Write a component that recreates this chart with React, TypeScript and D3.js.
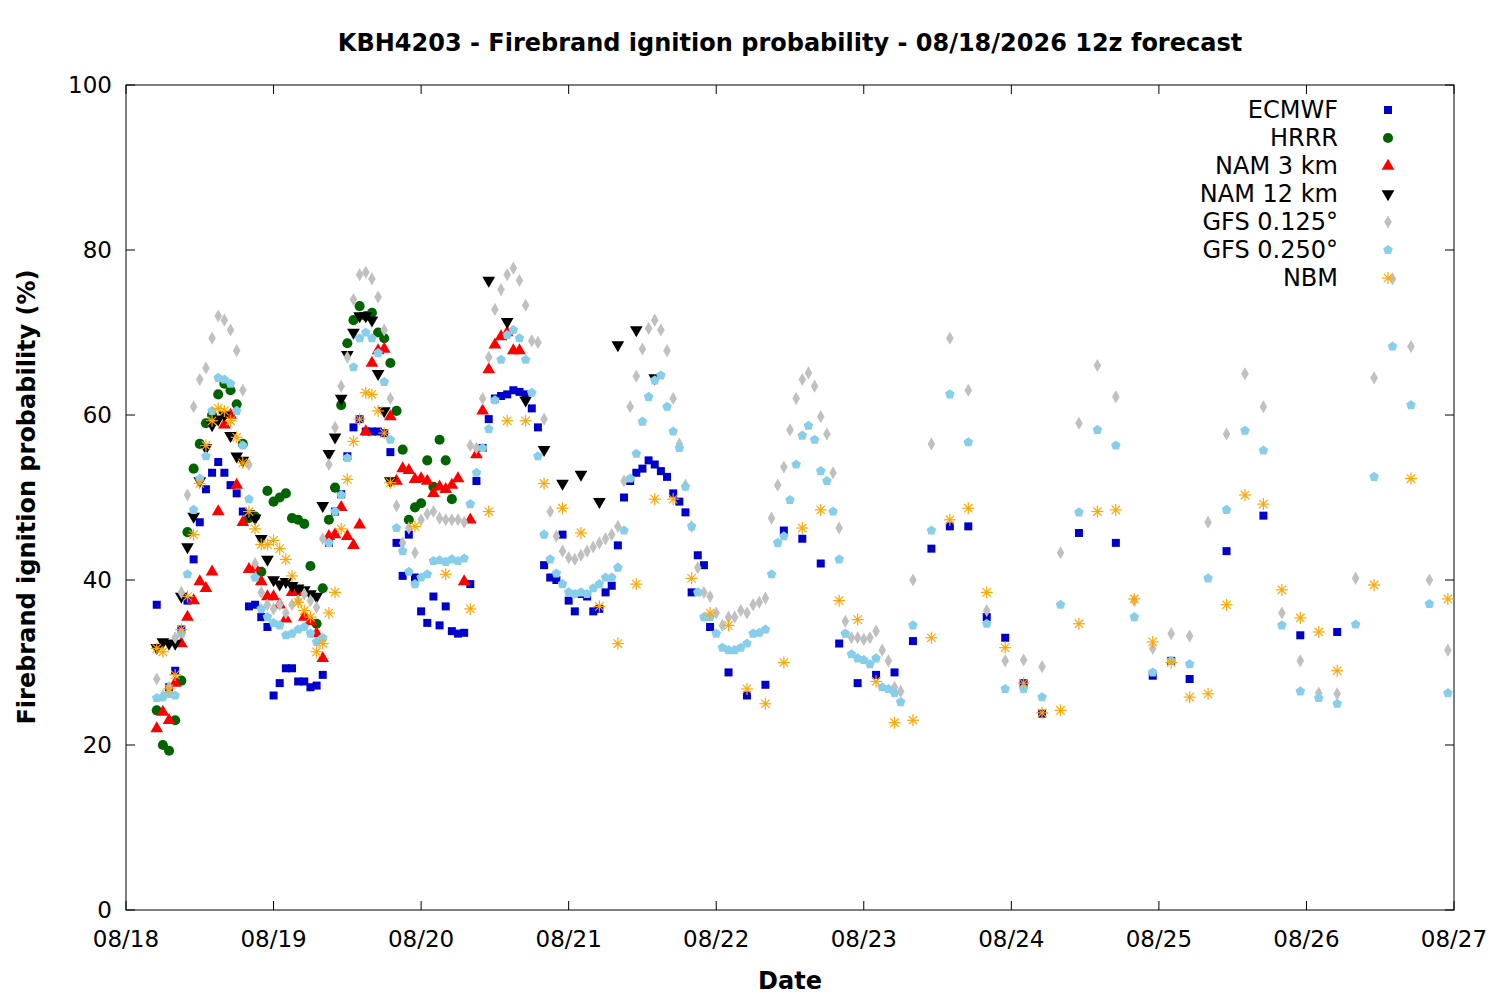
import * as d3 from "d3";

// hours since 08/18 00, values in %
const ecmwfHourlyStart = 5;
const ecmwfHourly = [37, null, 27, 29, 34, 37.5, 42.5, 47, 51, 53, 54.3, 53, 51.5, 50.5, 48.3, 36.8, 37, 35.5, 34.3, 26, 27.5, 29.3, 29.3, 27.7, 27.7, 27, 27.2, 28.5, 44.5, 48.3, 50.4, 55, 58.5, 59.5, 58, 58, 58, 57.8, 55.5, 44.5, 40.5, 45.5, 40.3, 36.2, 34.8, 38, 34.5, 36.8, 33.8, 33.5, 33.6, 39.5, 52, 56, 59.5, 62, 62.3, 62.5, 63, 62.8, 62.5, 60.8, 58.5, 41.8, 40.3, 40, 45.5, 37.5, 36.2, 38.3, 38, 36.2, 36.5, 38.5, 39.3, 44.2, 50, 52, 53, 53.5, 54.5, 54, 53.2, 52.5, 50.5, 49.5, 48.2, 38.5, 43, 41.8, 34.3];
const ecmwf3hStart = 98;
const ecmwf3h = [28.8, 26, 27.3, 46, 45, 42, 32.3, 27.5, 28.5, 28.8, 32.6, 43.8, 46.5, 46.5, 35.5, 33, 27.5, 23.8, null, 45.7, null, 44.5, null, 28.4, 30.2, 28, null, 43.5, null, 47.8, null, 33.3, null, 33.7];

const hrrrHourlyStart = 5;
const hrrrHourly = [24.2, 20, 19.3, 23, 27.8, 45.8, 53.5, 56.5, 59, 60, 62.5, 63.8, 63, 61.3, 56.5, 47.5, 47.7, 41, 50.8, 49.5, 50, 50.5, 47.5, 47.3, 46.8, 41.7, 34.7, 39, 47.3, 51.2, 61.2, 68.7, 71.5, 73.2, 72, 72.4, 70, 69.3, 66.3, 60.5, 55.8, 47.3, 48.8, 49.3, 54.5, 51.3, 57, 54.5, 49.8];

const nam3HourlyStart = 5;
const nam3Hourly = [22, 24, 23, 27.5, 32.3, 35.5, 37.5, 39.8, 39, 41, 48.3, 58.8, 60, 51.5, 47, 41.3, 41.5, 39.8, 38, 38, 37, 35.3, 38.5, 38.5, 35.5, 35, 33.5, 30.5, 45.3, 45.5, 48.8, 45.3, 44.2, 46.7, 58, 66.3, 67.8, 68, 59.8, 52, 53.5, 53.3, 52.2, 52.3, 52, 50.5, 51.3, 51, 51.5, 52.3, 39.8, 47.3, 55.2, 60.5, 65.5, 68.5, 69.5, 70, 67.8, 67.8];

const nam12HourlyStart = 5;
const nam12Hourly = [31.8, 32.5, 32.3, 32.3, 38, 44, 47.7, 52, 56, 58.8, 59.5, 60, 57.5, 55, 54.5, 48, 47.5, 45, 42.5, 40, 39.5, 39.8, 39.3, 39, 38.8, 38.3, 38, 49, 55.3, 57.3, 62, 67.3, 70, 72, 72, 71.5, 65, 60.5, 52];
const nam123hStart = 59;
const nam123h = [76.3, 71.3, 61.8, 55.8, 51.7, 52.8, 49.5, 68.5, 70.3, 64.5];

const gfs125HourlyStart = 5;
const gfs125Hourly = [28, 26, 27, 33, 38.5, 50.3, 61, 64.3, 65.7, 69.3, 72, 71.5, 70.3, 67.8, 63, 54, 42, 38.5, 37, 36.5, 37, 36, 37, 37.5, 38.3, 37.5, 36.7, 45, 54, 58.5, 63.5, 67, 74, 77, 77.3, 76.5, 74.3, 70.3, 62, 49, 44.5, 46.3, 43.3, 47.3, 48, 48.3, 47.5, 47.3, 47.3, 47.3, 47, 56.3, 56, 62, 67, 72.8, 75.2, 77, 77.8, 76.3, 73.3, 69, 68.8, 59.5, 48.3, 45.3, 43.5, 42.7, 42.5, 43, 43.5, 44, 44.5, 45, 45.5, 46.5, 52, 61, 64.7, 68, 70.5, 71.5, 70.3, 67.8, 62, 56.5, 51.5, 46.5, 41.5, 38.5, 38, 36, 34.5, 35.5, 35.5, 36.3, 36, 37, 37.3, 37.8, 47.5, 51.5, 53.7, 58.2, 62, 64.3, 65.1, 63.5, 59.8, 57.7, 53, 46.3, 35, 33, 33, 32.8, 33, 33.8, 31.5, 30.2, 27, 26.5];
const gfs1253hStart = 128;
const gfs1253h = [40, 56.5, 69.3, 63, 36.3, 30.2, 30.3, 29.5, 43.3, 59, 66, 62.2, 37.5, 31.7, 33.5, 33.2, 47, 57.7, 65, 61, 36, 30.2, 26.3, 26.2, 40.2, 64.5, 76.5, 68.3, 40, 31.5];

const gfs250HourlyStart = 5;
const gfs250Hourly = [25.7, 25.8, 26.2, 26, 33.5, 40.7, 48.5, 52.3, 55, 60.5, 64.5, 64.3, 63.8, 60.5, 56.3, 49.8, 40.3, 36.5, 35.5, 34.8, 34.5, 33.3, 33.5, 34, 34.3, 33.5, 32.5, 33, 44.5, 48.3, 50.3, 54.8, 65.8, 69.3, 70, 69.3, 67.5, 64, 57, 46.3, 43.5, 41, 39.5, 40.3, 40.7, 42.3, 42.4, 42.2, 42.5, 42.3, 42.6, 49.2, 53, 56, 58.3, 61.8, 66.7, 69.7, 70.3, 69.3, 66.7, 62.7, 55, 45.5, 42.5, 40.8, 39.5, 38.5, 38.3, 38.5, 38.3, 39, 39.5, 40.3, 40.3, 41.5, 46, 52.3, 55.3, 59.2, 62.2, 64.2, 64.8, 61, 58, 56, 51.3, 46.5, 38.5, 35.5, 35.5, 33.5, 31.8, 31.5, 31.5, 31.8, 32.3, 33.5, 33.6, 34, 40.7, 44.5, 45.3, 49.7, 54, 57.5, 58.7, 57, 53.2, 52, 48.3, 42.5, 33.5, 31, 30.5, 30.3, 29.8, 30.5, 27, 26.8, 26.3, 25.2];
const gfs2503hStart = 128;
const gfs2503h = [34.5, 46, 62.5, 56.7, 34.7, 26.8, 26.8, 25.8, 37, 48.2, 58.2, 56.3, 35.5, 28.8, 30.2, 29.8, 40.2, 48.5, 58.1, 55.7, 34.5, 26.5, 25.7, 25, 34.6, 52.5, 68.3, 61.2, 37.1, 26.3];

const nbmHourlyStart = 5;
const nbmHourly = [31.7, 31.3, 26.8, 28.5, 34, 38, 45.5, 51.7, 56.3, 59.3, 60.8, 60.5, 59.3, 57.3, 54.2, 48.3, 46.2, 44.3, 44.3, 44.8, 43.8, 42.5, 40.5, 37.3, 36.3, 35.5, 31.3, 32.3, 36, 38.5, 46.2, 52.2, 56.8, 59.5, 62.7, 62.5, 60.5, 57.8, 51.8, null, null, null, 46.5, null, null, null, null, 40.7];
const nbm3hStart = 56;
const nbm3h = [36.5, 48.3, 59.3, 59.3, 51.7, 48.7, 45.7, 36.8, 32.3, 39.5, 49.8, 49.8, 40.2, 36, 34.5, 26.8, 25, 30, 46.3, 48.5, 37.5, 35.2, 27.7, 22.7, 23, 33, 47.3, 48.7, 38.5, 31.8, 27.5, 23.9, 24.2, 34.7, 48.3, 48.5, 37.7, 32.5, 30, 25.8, 26.2, 37, 50.3, 49.2, 38.8, 35.4, 33.7, 29, null, 39.4, null, 52.3, null, 37.7];

const dayLabels = ["08/18", "08/19", "08/20", "08/21", "08/22", "08/23", "08/24", "08/25", "08/26", "08/27"];

type Pt = { h: number; v: number };
const seq = (start: number, step: number, vals: (number | null)[]): Pt[] =>
  vals.flatMap((v, i) => (v == null ? [] : [{ h: start + i * step, v }]));

type Series = { name: string; color: string; shape: string; pts: Pt[] };
const series: Series[] = [
  { name: "ECMWF", color: "#0000cd", shape: "square", pts: [...seq(ecmwfHourlyStart, 1, ecmwfHourly), ...seq(ecmwf3hStart, 3, ecmwf3h)] },
  { name: "HRRR", color: "#006400", shape: "circle", pts: seq(hrrrHourlyStart, 1, hrrrHourly) },
  { name: "NAM 3 km", color: "#ff0000", shape: "up", pts: seq(nam3HourlyStart, 1, nam3Hourly) },
  { name: "NAM 12 km", color: "#000000", shape: "down", pts: [...seq(nam12HourlyStart, 1, nam12Hourly), ...seq(nam123hStart, 3, nam123h)] },
  { name: "GFS 0.125°", color: "#c0c0c0", shape: "diamond", pts: [...seq(gfs125HourlyStart, 1, gfs125Hourly), ...seq(gfs1253hStart, 3, gfs1253h)] },
  { name: "GFS 0.250°", color: "#87ceeb", shape: "pentagon", pts: [...seq(gfs250HourlyStart, 1, gfs250Hourly), ...seq(gfs2503hStart, 3, gfs2503h)] },
  { name: "NBM", color: "#ffa500", shape: "star", pts: [...seq(nbmHourlyStart, 1, nbmHourly), ...seq(nbm3hStart, 3, nbm3h)] },
];

const W = 1500, H = 1000;
const m = { left: 126, right: 1454, top: 85, bottom: 910 };
const x = d3.scaleLinear().domain([0, 216]).range([m.left, m.right]);
const y = d3.scaleLinear().domain([0, 100]).range([m.bottom, m.top]);
const font = "'DejaVu Sans', sans-serif";

const pentagon = {
  draw(ctx: d3.Path, size: number) {
    const r = Math.sqrt(size / 2.38);
    for (let i = 0; i < 5; i++) {
      const a = -Math.PI / 2 + (i * 2 * Math.PI) / 5;
      const px = r * Math.cos(a), py = r * Math.sin(a);
      if (i === 0) ctx.moveTo(px, py); else ctx.lineTo(px, py);
    }
    ctx.closePath();
  },
};

const Marker = ({ shape, color, cx, cy }: { shape: string; color: string; cx: number; cy: number }) => {
  const t = `translate(${cx},${cy})`;
  if (shape === "star") {
    const r = 6;
    return (
      <g transform={t} stroke={color} strokeWidth={1.2}>
        <line x1={-r} x2={r} y1={0} y2={0} />
        <line x1={0} x2={0} y1={-r} y2={r} />
        <line x1={-r * 0.7} x2={r * 0.7} y1={-r * 0.7} y2={r * 0.7} />
        <line x1={-r * 0.7} x2={r * 0.7} y1={r * 0.7} y2={-r * 0.7} />
      </g>
    );
  }
  let d = "";
  if (shape === "square") d = d3.symbol(d3.symbolSquare, 64)()!;
  else if (shape === "circle") d = d3.symbol(d3.symbolCircle, 80)()!;
  else if (shape === "up") d = d3.symbol(d3.symbolTriangle, 70)()!;
  else if (shape === "down") return <path transform={`${t} rotate(180)`} d={d3.symbol(d3.symbolTriangle, 70)()!} fill={color} />;
  else if (shape === "diamond") d = d3.symbol(d3.symbolDiamond, 50)()!;
  else if (shape === "pentagon") d = d3.symbol(pentagon as any, 60)()!;
  return <path transform={t} d={d} fill={color} />;
};

export default function App() {
  const yTicks = d3.range(0, 101, 20);
  const xTicks = d3.range(0, 217, 24);
  return (
    <svg width={W} height={H} style={{ display: "block", margin: -8, background: "#fff" }} fontFamily={font}>
      <text x={790} y={51} textAnchor="middle" fontSize={24} fontWeight="bold">
        KBH4203 - Firebrand ignition probability - 08/18/2026 12z forecast
      </text>
      <rect x={m.left} y={m.top} width={m.right - m.left} height={m.bottom - m.top} fill="none" stroke="#000" />
      {yTicks.map((t) => (
        <g key={t}>
          <line x1={m.left} x2={m.left + 9} y1={y(t)} y2={y(t)} stroke="#000" />
          <line x1={m.right} x2={m.right - 9} y1={y(t)} y2={y(t)} stroke="#000" />
          <text x={m.left - 14} y={y(t)} dy="0.35em" textAnchor="end" fontSize={23}>{t}</text>
        </g>
      ))}
      {xTicks.map((t, i) => (
        <g key={t}>
          <line x1={x(t)} x2={x(t)} y1={m.bottom} y2={m.bottom - 9} stroke="#000" />
          <line x1={x(t)} x2={x(t)} y1={m.top} y2={m.top + 9} stroke="#000" />
          <text x={x(t)} y={m.bottom + 37} textAnchor="middle" fontSize={23}>{dayLabels[i]}</text>
        </g>
      ))}
      <text x={790} y={989} textAnchor="middle" fontSize={24} fontWeight="bold">Date</text>
      <text transform="translate(35,497) rotate(-90)" textAnchor="middle" fontSize={24} fontWeight="bold">
        Firebrand ignition probability (%)
      </text>
      {series.map((s) => (
        <g key={s.name}>
          {s.pts.map((p, i) => (
            <Marker key={i} shape={s.shape} color={s.color} cx={x(p.h)} cy={y(p.v)} />
          ))}
        </g>
      ))}
      {series.map((s, i) => (
        <g key={s.name}>
          <text x={1338} y={110 + i * 28} dy="0.35em" textAnchor="end" fontSize={24}>{s.name}</text>
          <Marker shape={s.shape} color={s.color} cx={1388} cy={110 + i * 28} />
        </g>
      ))}
    </svg>
  );
}
